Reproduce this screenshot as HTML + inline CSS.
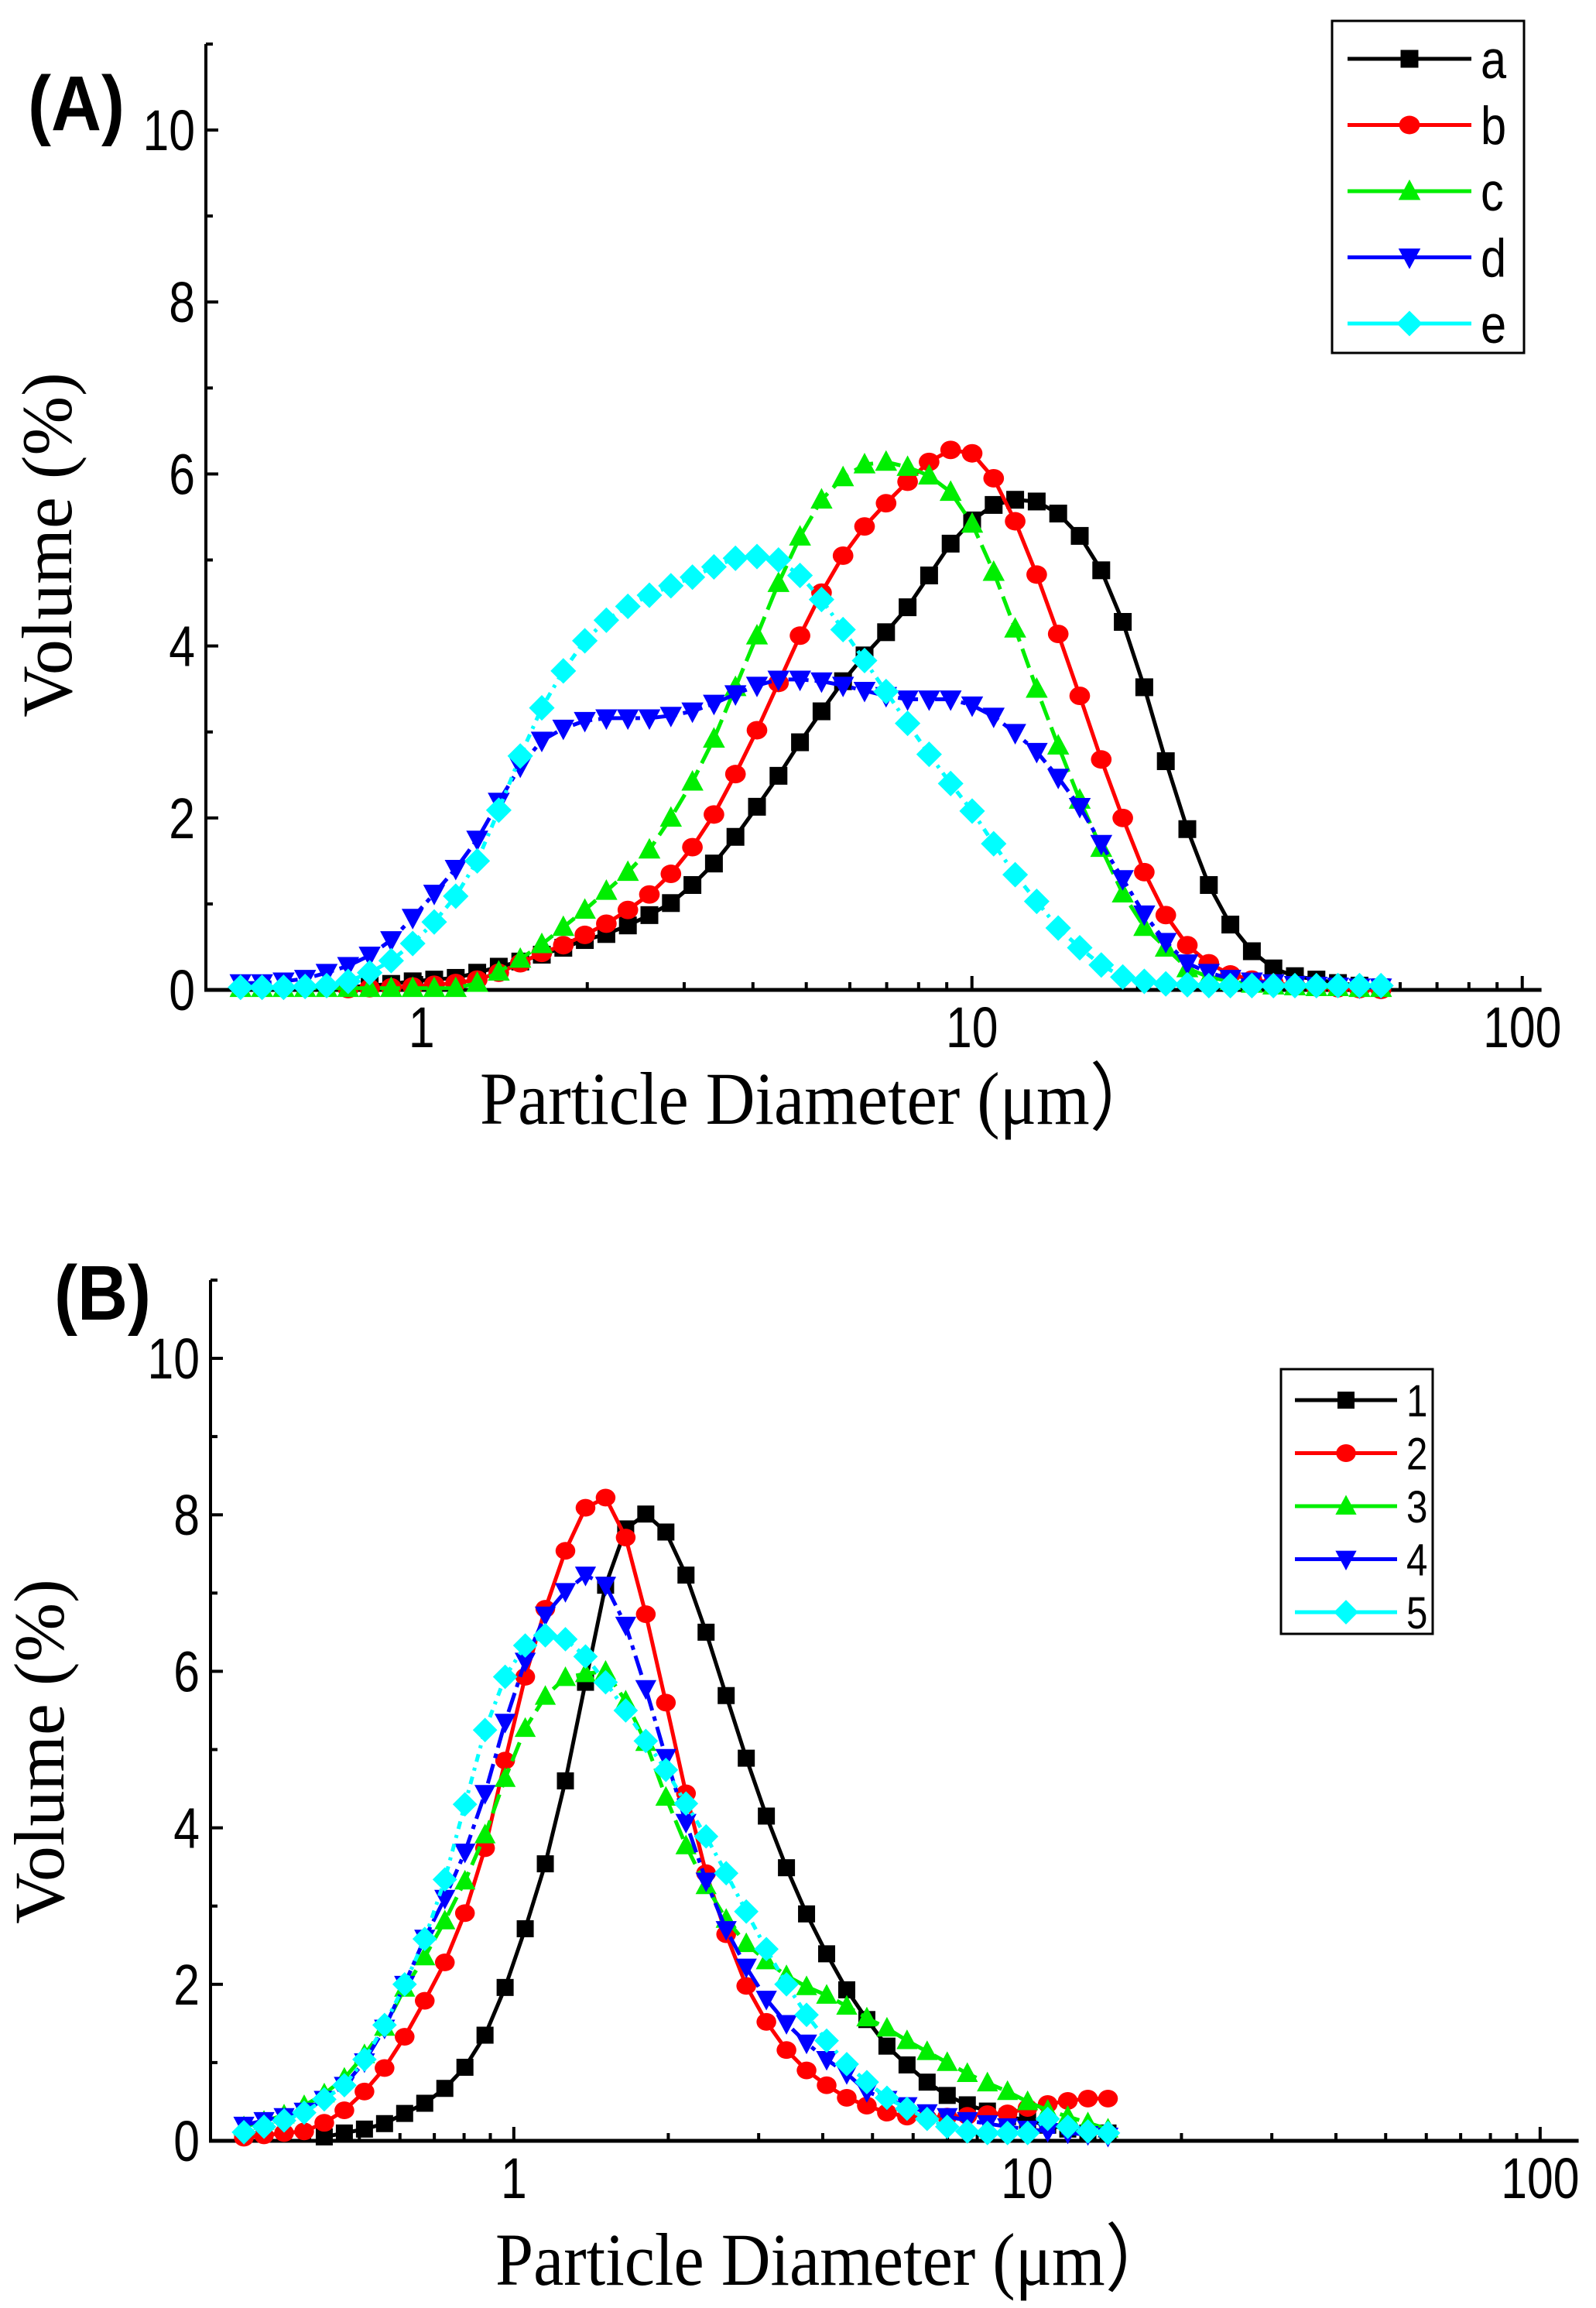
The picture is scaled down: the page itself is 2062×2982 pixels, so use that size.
<!DOCTYPE html>
<html><head><meta charset="utf-8"><style>
html,body{margin:0;padding:0;background:#fff}
svg{display:block}
</style></head><body>
<svg id="chart" width="2062" height="2982" viewBox="0 0 2062 2982" xmlns="http://www.w3.org/2000/svg">
<rect x="0" y="0" width="2062" height="2982" fill="#fff"/>
<g id="panelA"></g>
<g id="panelB"></g>
</svg>
<script>
// ---------- Panel A data ----------
const gridA_logStart = -0.329, gridA_logStep = 0.0391, gridA_count = 54;
const seriesA_names = ["a","b","c","d","e"];
const seriesA_a = [null,null,null,null,null,0.03,0.05,0.07,0.1,0.12,0.14,0.2,0.27,0.33,0.41,0.49,0.58,0.65,0.75,0.87,1.01,1.22,1.47,1.78,2.13,2.49,2.88,3.24,3.59,3.89,4.16,4.45,4.82,5.19,5.46,5.64,5.70,5.68,5.54,5.28,4.88,4.28,3.52,2.66,1.87,1.22,0.76,0.45,0.25,0.16,0.12,0.08,0.05,0.03];
const seriesA_b = [null,null,null,null,null,0.01,0.02,0.03,0.04,0.06,0.08,0.12,0.2,0.31,0.43,0.52,0.64,0.77,0.93,1.11,1.35,1.66,2.04,2.51,3.02,3.57,4.12,4.62,5.05,5.39,5.66,5.91,6.14,6.28,6.24,5.95,5.45,4.83,4.14,3.42,2.68,2.0,1.37,0.87,0.52,0.31,0.18,0.12,0.08,0.05,0.03,0.02,0.01,0.0];
const seriesA_c = [0.02,0.02,0.02,0.02,0.02,0.02,0.02,0.02,0.02,0.02,0.02,0.08,0.21,0.36,0.53,0.73,0.93,1.15,1.37,1.63,2.0,2.42,2.92,3.52,4.12,4.73,5.27,5.7,5.96,6.11,6.14,6.08,5.98,5.79,5.42,4.86,4.2,3.5,2.84,2.21,1.65,1.12,0.73,0.49,0.25,0.15,0.1,0.07,0.05,0.04,0.03,0.03,0.02,0.02];
const seriesA_d = [0.08,0.08,0.1,0.13,0.2,0.28,0.4,0.58,0.84,1.12,1.41,1.75,2.19,2.6,2.9,3.04,3.13,3.16,3.16,3.16,3.19,3.24,3.33,3.44,3.54,3.61,3.61,3.59,3.54,3.48,3.42,3.38,3.38,3.38,3.31,3.18,2.99,2.77,2.47,2.13,1.7,1.29,0.88,0.56,0.31,0.2,0.13,0.1,0.08,0.06,0.05,0.04,0.03,0.03];
const seriesA_e = [0.03,0.03,0.03,0.04,0.05,0.1,0.2,0.34,0.54,0.79,1.09,1.5,2.09,2.72,3.28,3.71,4.06,4.3,4.46,4.59,4.7,4.8,4.92,5.02,5.04,5.0,4.82,4.54,4.19,3.83,3.47,3.1,2.74,2.4,2.08,1.7,1.34,1.03,0.72,0.49,0.29,0.15,0.1,0.07,0.06,0.05,0.05,0.05,0.05,0.05,0.05,0.05,0.05,0.05];
// ---------- Panel B data ----------
const gridB_logStart = -0.526, gridB_logStep = 0.03916, gridB_count = 44;
const seriesB_names = ["1","2","3","4","5"];
const seriesB_1 = [null,null,null,null,0.05,0.1,0.15,0.22,0.35,0.48,0.67,0.94,1.35,1.96,2.71,3.54,4.6,5.86,7.1,7.82,8.01,7.78,7.23,6.5,5.69,4.89,4.15,3.49,2.9,2.39,1.93,1.55,1.21,0.97,0.75,0.58,0.46,0.38,0.31,0.26,0.2,0.15,0.1,0.1];
const seriesB_2 = [0.04,0.07,0.1,0.12,0.23,0.39,0.63,0.93,1.33,1.79,2.28,2.91,3.74,4.86,5.93,6.8,7.54,8.09,8.22,7.71,6.73,5.6,4.44,3.42,2.64,1.98,1.52,1.16,0.9,0.71,0.55,0.45,0.36,0.31,0.29,0.31,0.32,0.34,0.35,0.42,0.47,0.51,0.54,0.54];
const seriesB_3 = [0.18,0.25,0.33,0.45,0.6,0.8,1.1,1.45,1.95,2.35,2.81,3.32,3.91,4.63,5.27,5.68,5.92,5.97,6.0,5.62,5.09,4.39,3.77,3.26,2.83,2.52,2.3,2.11,1.97,1.86,1.72,1.57,1.44,1.28,1.14,1.0,0.86,0.74,0.63,0.5,0.39,0.31,0.23,0.15];
const seriesB_4 = [0.2,0.26,0.31,0.38,0.53,0.71,1.01,1.44,2.0,2.59,3.1,3.69,4.44,5.35,6.13,6.72,7.02,7.23,7.1,6.59,5.78,4.9,4.07,3.32,2.7,2.22,1.81,1.5,1.25,1.04,0.86,0.63,0.53,0.45,0.36,0.31,0.26,0.22,0.18,0.15,0.12,0.1,0.08,0.06];
const seriesB_5 = [0.11,0.18,0.26,0.36,0.53,0.71,1.04,1.48,2.0,2.58,3.34,4.3,5.25,5.93,6.33,6.46,6.41,6.19,5.86,5.5,5.11,4.74,4.31,3.89,3.42,2.93,2.45,2.0,1.61,1.28,0.98,0.75,0.55,0.41,0.28,0.18,0.12,0.1,0.1,0.1,0.28,0.18,0.12,0.1];
const yTickLabels = ["0","2","4","6","8","10"];
const xTickLabels = ["1","10","100"];

const NS="http://www.w3.org/2000/svg";
function mk(tag, attrs, parent){const e=document.createElementNS(NS,tag);for(const k in attrs)e.setAttribute(k,attrs[k]);parent.appendChild(e);return e;}

const colors=["#000000","#ff0000","#00ee00","#0000ff","#00ffff"];
const shapes=["square","circle","triangle","itriangle","diamond"];
const dashes=["none","none","26 10","26 8 6 8","10 8 4 8"];

function marker(shape,x,y,s,color,parent){
  let e;
  if(shape==="square"){e=mk("rect",{x:x-s/2,y:y-s/2,width:s,height:s,fill:color},parent);}
  else if(shape==="circle"){e=mk("ellipse",{cx:x,cy:y,rx:s*0.58,ry:s*0.52,fill:color},parent);}
  else if(shape==="triangle"){const h=s*1.1;e=mk("polygon",{points:`${x},${y-h*0.6} ${x-s*0.62},${y+h*0.45} ${x+s*0.62},${y+h*0.45}`,fill:color},parent);}
  else if(shape==="itriangle"){const h=s*1.1;e=mk("polygon",{points:`${x},${y+h*0.6} ${x-s*0.62},${y-h*0.45} ${x+s*0.62},${y-h*0.45}`,fill:color},parent);}
  else {const r=s*0.72;e=mk("polygon",{points:`${x},${y-r} ${x+r},${y} ${x},${y+r} ${x-r},${y}`,fill:color},parent);}
  return e;
}
function ctext(parent,x,y,str,fs,anchor,family,sx,extra){
  const t=mk("text",Object.assign({x:0,y:0,"text-anchor":anchor,"font-family":family,"font-size":fs,transform:`translate(${x},${y}) scale(${sx},1)`},extra||{}),parent);
  t.textContent=str;
  return t;
}

function drawPanel(cfg){
  const g=document.getElementById(cfg.id);
  const X=v=>cfg.x0px+(Math.log10(v)-cfg.logMin)*cfg.decPx;
  const Y=v=>cfg.y0px-v*cfg.unitPx;
  const left=X(Math.pow(10,cfg.logMin)), right=X(Math.pow(10,cfg.logMax));
  const top=Y(11), bottom=Y(0);
  const ax=mk("g",{},g);
  
  
  mk("line",{x1:left,y1:top,x2:left,y2:bottom+2,stroke:"#000","stroke-width":4},ax);
  mk("line",{x1:left-2,y1:bottom,x2:right,y2:bottom,stroke:"#000","stroke-width":5},ax);
  for(let v=0;v<=11;v++){
    const len=(v%2===0)?16:9;
    mk("line",{x1:left,y1:Y(v),x2:left+len,y2:Y(v),stroke:"#000","stroke-width":4},ax);
  }
  yTickLabels.forEach((t,i)=>{
    const tx=ctext(ax,left-14,Y(i*2)+26,t,74,"end","Liberation Sans, sans-serif",0.82);
    
    
  });
  for(let d=Math.floor(cfg.logMin);d<=Math.ceil(cfg.logMax);d++){
    for(let m=1;m<10;m++){
      const lv=d+Math.log10(m);
      if(lv<cfg.logMin||lv>cfg.logMax)continue;
      const px=X(Math.pow(10,lv));
      mk("line",{x1:px,y1:bottom,x2:px,y2:bottom-(m===1?18:10),stroke:"#000","stroke-width":4},ax);
    }
  }
  xTickLabels.forEach(t=>{
    const tx=ctext(ax,X(+t),bottom+cfg.xLabOff,t,74,"middle","Liberation Sans, sans-serif",0.82);
    
    
  });
  const xt=ctext(g,cfg.xTitleX,cfg.xTitleY,"Particle Diameter (μm）",96,"middle","Liberation Serif, serif",0.92);
  
  
  const yt=mk("text",{x:0,y:0,"text-anchor":"middle","font-family":"Liberation Serif, serif","font-size":92,transform:`translate(${cfg.yTitleX},${cfg.yTitleY}) rotate(-90)`},g);
  yt.textContent="Volume (%)";
  
  
  const pl=ctext(g,cfg.plX,cfg.plY,cfg.panelLabel,100,"start","Liberation Sans, sans-serif",0.9,{"font-weight":"bold"});
  
  
  cfg.series.forEach((vals,si)=>{
    const sg=mk("g",{},g);
    
    
    const pts=[];
    vals.forEach((v,i)=>{ if(v===null)return; const lx=cfg.logStart+i*cfg.logStep; pts.push([X(Math.pow(10,lx)),Y(v)]); });
    const pl2=mk("polyline",{points:pts.map(p=>p.join(",")).join(" "),fill:"none",stroke:colors[si],"stroke-width":5,"stroke-dasharray":dashes[si]},sg);
    
    
    pts.forEach(p=>{
      const m=marker(shapes[si],p[0],p[1],cfg.ms,colors[si],sg);
      
      
    });
  });
  const lg=mk("g",{},g);
  
  
  mk("rect",{x:cfg.lgX,y:cfg.lgY,width:cfg.lgW,height:cfg.lgH,fill:"#fff",stroke:"#000","stroke-width":3},lg);
  cfg.names.forEach((n,si)=>{
    const ey=cfg.lgY+cfg.lgFirst+si*cfg.lgStep;
    const en=mk("g",{},lg);
    
    
    mk("line",{x1:cfg.lgX+cfg.lgL1,y1:ey,x2:cfg.lgX+cfg.lgL2,y2:ey,stroke:colors[si],"stroke-width":5},en);
    marker(shapes[si],cfg.lgX+(cfg.lgL1+cfg.lgL2)/2,ey,cfg.ms,colors[si],en);
    ctext(en,cfg.lgX+cfg.lgL2+12,ey+cfg.lgFs*0.36,n,cfg.lgFs,"start","Liberation Sans, sans-serif",0.85);
  });
}

drawPanel({id:"panelA",x0px:266,logMin:-0.392,logMax:2.035,decPx:711,y0px:1279,unitPx:111.1,
  logStart:gridA_logStart,logStep:gridA_logStep,series:[seriesA_a,seriesA_b,seriesA_c,seriesA_d,seriesA_e],names:seriesA_names,
  xLabOff:74,xTitleX:1058,xTitleY:1452,yTitleX:92,yTitleY:704,plX:36,plY:168,panelLabel:"(A)",ms:23,
  lgX:1721,lgY:27,lgW:248,lgH:429,lgFirst:49,lgStep:85.5,lgL1:20,lgL2:180,lgFs:70});
drawPanel({id:"panelB",x0px:272,logMin:-0.591,logMax:2.075,decPx:663,y0px:2766,unitPx:101.1,
  logStart:gridB_logStart,logStep:gridB_logStep,series:[seriesB_1,seriesB_2,seriesB_3,seriesB_4,seriesB_5],names:seriesB_names,
  xLabOff:74,xTitleX:1078,xTitleY:2952,yTitleX:82,yTitleY:2263,plX:70,plY:1705,panelLabel:"(B)",ms:22,
  lgX:1655,lgY:1769,lgW:196,lgH:342,lgFirst:40,lgStep:68.5,lgL1:18,lgL2:150,lgFs:58});
</script>
</body></html>
